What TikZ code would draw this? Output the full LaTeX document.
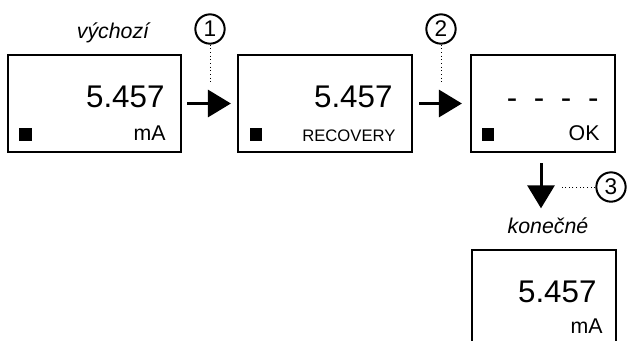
\documentclass[tikz,border=0pt]{standalone}
\usepackage{fontspec}
\setmainfont{Liberation Sans}
\usetikzlibrary{arrows.meta}

\tikzset{every picture/.style={line width=0.75pt}}
\tikzset{
  screen/.style={draw, line width=2pt, inner sep=0pt},
  marker/.style={fill=black, draw=none, minimum size=9.5pt, inner sep=0pt},
  value/.style={anchor=base east, inner sep=0pt, font=\fontsize{23.5}{28}\selectfont},
  unit/.style={anchor=base east, inner sep=0pt, font=\fontsize{16}{19}\selectfont},
  caption/.style={anchor=base, inner sep=0pt, font=\fontsize{16}{19}\selectfont\itshape},
  stepno/.style={circle, draw, line width=1.5pt, minimum size=22pt, inner sep=0pt, font=\fontsize{17}{19}\selectfont},
  flow/.style={line width=2.25pt, -{Triangle[length=17.25pt,width=20.25pt]}},
  leader/.style={dotted, line width=0.75pt}
}

\begin{document}
\begin{tikzpicture}[x=0.75pt,y=0.75pt,yscale=-1,xscale=1]
\useasboundingbox (0,0) rectangle (633,340);
\clip (0,0) rectangle (633,340);

%Shape: Rectangle
\node [screen, minimum width=129.75pt, minimum height=72.75pt] (start) at (94.5,103.5) {};
%Shape: Rectangle
\node [screen, minimum width=130.5pt, minimum height=72.75pt] (recov) at (325,103.5) {};
%Shape: Rectangle
\node [screen, minimum width=108pt, minimum height=72.75pt] (okbox) at (543,103.5) {};
%Shape: Rectangle
\node [screen, minimum width=108pt, minimum height=90pt] (final) at (544,310) {};

%Shape: Square
\node [marker] (mk1) at (25.5,134.5) {};
%Shape: Square
\node [marker] (mk2) at (256,134.5) {};
%Shape: Square
\node [marker] (mk3) at (488,134.5) {};

% Text Node
\node [value] (val1) at (165,107) {5.457};
% Text Node
\node [value] (val2) at (393,107) {5.457};
% Text Node
\node [value] (val3) at (599,108) {-\hspace{12.5pt}-\hspace{12.5pt}-\hspace{12.5pt}-};
% Text Node
\node [value] (val4) at (597,302) {5.457};

% Text Node
\node [unit] (unit1) at (166,140) {mA};
% Text Node
\node [anchor=base east, inner sep=0pt, font=\fontsize{12.5}{15}\selectfont] (unit2) at (396,141) {RECOVERY};
% Text Node
\node [unit] (unit3) at (600,140) {OK};
% Text Node
\node [unit] (unit4) at (603,333) {mA};

% Text Node
\node [caption] (lbstart) at (113,38) {výchozí};
% Text Node
\node [caption] (lbfinal) at (548,233) {konečné};

%Shape: Circle
\node [stepno] (no1) at (210,29) {1};
%Shape: Circle
\node [stepno] (no2) at (441,29) {2};
%Shape: Circle
\node [stepno] (no3) at (611,187) {3};

\coordinate (end1) at (210,82);
\coordinate (end2) at (441,82);
\coordinate (end3) at (562,187);

%Straight Lines
\draw [leader] (no1) -- (end1);
%Straight Lines
\draw [leader] (no2) -- (end2);
%Straight Lines
\draw [leader] (no3) -- (end3);

%Straight Lines
\draw [flow, shorten <=3.5pt, shorten >=4.3pt] (start) -- (recov);
%Straight Lines
\draw [flow, shorten <=4.3pt, shorten >=5.8pt] (recov) -- (okbox);
%Straight Lines
\draw [flow, shorten <=7.5pt] ([xshift=-1.5pt]okbox.south) -- ++(0,55);

\end{tikzpicture}
\end{document}
